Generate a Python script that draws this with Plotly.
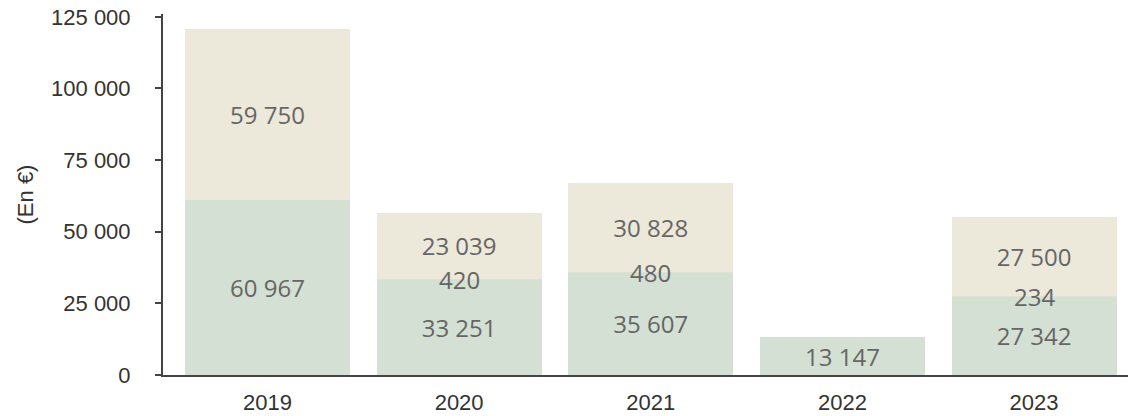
import plotly.graph_objects as go

years = ["2019", "2020", "2021", "2022", "2023"]
bottom_vals = [60967, 33251, 35607, 13147, 27342]
middle_vals = [None, 420, 480, None, 234]
top_vals = [59750, 23039, 30828, None, 27500]
y_ticks = [0, 25000, 50000, 75000, 100000, 125000]

c_bottom = "#d4e0d3"
c_mid = "#dfe2d3"
c_top = "#ece8da"
label_color = "#666666"
label_font = dict(family="Open Sans", size=24, color=label_color)

fig = go.Figure()
fig.add_bar(x=years, y=bottom_vals, marker=dict(color=c_bottom, line=dict(width=0)),
            texttemplate="%{y:,d}", textposition="inside", insidetextanchor="middle",
            constraintext="none", textfont=label_font, hoverinfo="skip")
fig.add_bar(x=years, y=[m if m is not None else 0 for m in middle_vals],
            marker=dict(color=c_mid, line=dict(width=0)), hoverinfo="skip")
fig.add_bar(x=years, y=top_vals, marker=dict(color=c_top, line=dict(width=0)),
            texttemplate="%{y:,d}", textposition="inside", insidetextanchor="middle",
            constraintext="none", textfont=label_font, hoverinfo="skip")

for i, (b, m) in enumerate(zip(bottom_vals, middle_vals)):
    if m is not None:
        fig.add_annotation(x=i, y=b + m / 2, xref="x", yref="y",
                           text=f"{m:,}".replace(",", " "),
                           showarrow=False, font=label_font, yanchor="middle")

fig.update_layout(
    barmode="stack",
    bargap=0.14,
    width=1128, height=416,
    margin=dict(l=163, r=0, t=14, b=41),
    plot_bgcolor="white", paper_bgcolor="white",
    showlegend=False,
    separators=", ",
    font=dict(family="Liberation Sans, Arial", size=22, color="#333333"),
)
fig.update_yaxes(
    range=[0, 126000], tickvals=y_ticks, tickformat=",d",
    showgrid=False, zeroline=False, automargin=False,
    showline=True, linecolor="#444444", linewidth=2,
    ticks="outside", ticklen=6, tickcolor="#444444", tickwidth=2,
    ticklabelstandoff=20,
    title=dict(text="(En €)", font=dict(size=22, color="#333333"), standoff=11),
)
fig.update_xaxes(
    type="category",
    range=[-0.545, 4.49],
    showgrid=False, zeroline=False, automargin=False,
    showline=True, linecolor="#444444", linewidth=2,
    ticks="", ticklabelstandoff=7,
)

fig.write_html("out.html", config={"displayModeBar": False},
               post_script="document.body.style.margin='0';")
